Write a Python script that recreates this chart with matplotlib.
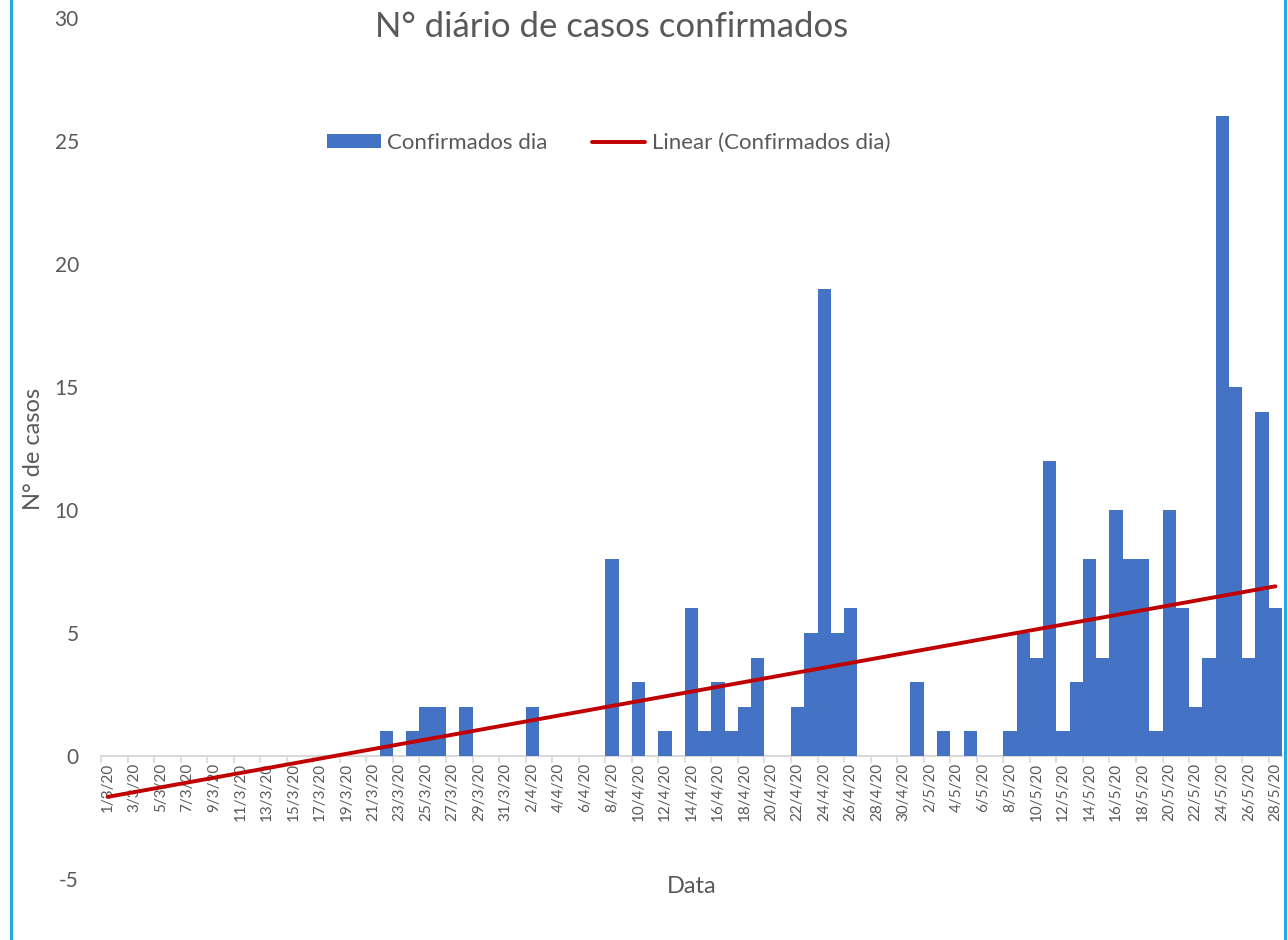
import numpy as np
import pandas as pd
import matplotlib
matplotlib.use('Agg')
import matplotlib.pyplot as plt
from matplotlib.lines import Line2D

plt.rcParams['font.family'] = ['Lato', 'DejaVu Sans']
plt.rcParams['axes.unicode_minus'] = False

# daily confirmed cases, 1/3/2020 .. 28/5/2020
dates = pd.date_range('2020-03-01', '2020-05-28', freq='D')
cases = [0] * len(dates)
# (day index from 1/3, value)
nonzero = {21: 1, 23: 1, 24: 2, 25: 2, 27: 2, 32: 2, 38: 8, 40: 3, 42: 1,
           44: 6, 45: 1, 46: 3, 47: 1, 48: 2, 49: 4, 52: 2, 53: 5, 54: 19,
           55: 5, 56: 6, 61: 3, 63: 1, 65: 1, 68: 1, 69: 5, 70: 4, 71: 12,
           72: 1, 73: 3, 74: 8, 75: 4, 76: 10, 77: 8, 78: 8, 79: 1, 80: 10,
           81: 6, 82: 2, 83: 4, 84: 26, 85: 15, 86: 4, 87: 14, 88: 6}
for k, v in nonzero.items():
    cases[k] = v
cases = np.array(cases)
labels = ['{}/{}/20'.format(d.day, d.month) for d in dates]

grey = '#595959'
blue = '#4472C4'
red = '#C00000'

fig = plt.figure(figsize=(12.88, 9.4), dpi=100)
ax = fig.add_axes([101 / 1288, 1 - 879 / 940, 1181 / 1288, 861 / 940])

x = np.arange(1, len(dates) + 1)
bars = ax.bar(x, cases, width=1.0, color=blue, label='Confirmados dia',
              zorder=2)

# linear trend like Excel's
slope, intercept = np.polyfit(x, cases, 1)
trend, = ax.plot(x, slope * x + intercept, color=red, lw=2.8,
                 label='Linear (Confirmados dia)', zorder=3,
                 solid_capstyle='round')

ax.set_xlim(0.5, len(dates) + 0.5)
ax.set_ylim(-5, 30)
ax.set_yticks(range(-5, 31, 5))

for s in ['top', 'right', 'left']:
    ax.spines[s].set_visible(False)
ax.spines['bottom'].set_position(('data', 0))
ax.spines['bottom'].set_color('#D9D9D9')
ax.spines['bottom'].set_linewidth(1.5)
ax.spines['bottom'].set_zorder(1)

ax.set_xticks(x[::2])
ax.set_xticklabels(labels[::2], rotation=90, fontsize=11, color=grey)
ax.set_xticks(np.arange(0.5, len(dates), 2), minor=True)
ax.tick_params(axis='x', which='major', length=0, pad=5)
ax.tick_params(axis='x', which='minor', length=5, width=1.2,
               color='#D9D9D9')
ax.tick_params(axis='y', length=0, pad=16, labelsize=15, labelcolor=grey)

ax.set_xlabel('Data', fontsize=17, color=grey)
ax.xaxis.set_label_coords(0.5, -0.009)
ax.xaxis.label.set_va('center')
ax.set_ylabel('N° de casos', fontsize=17, color=grey)
ax.yaxis.set_label_coords(-0.057, 0.5)
ax.yaxis.label.set_va('center')

fig.text(0.475, 0.971, 'N° diário de casos confirmados', fontsize=25,
         color=grey, ha='center', va='center')

ax.legend(handles=[bars, trend], loc='center', bbox_to_anchor=(0.43, 0.855),
          ncol=2, frameon=False, fontsize=16, labelcolor=grey,
          handlelength=2.4, handleheight=0.55, columnspacing=2.0,
          handletextpad=0.3)

# chart frame edges
for xf in [11 / 1288, 1285 / 1288]:
    fig.add_artist(Line2D([xf, xf], [0, 1], color='#1FA9E5', lw=2.2,
                          transform=fig.transFigure))

fig.savefig('out.png', dpi=100)
